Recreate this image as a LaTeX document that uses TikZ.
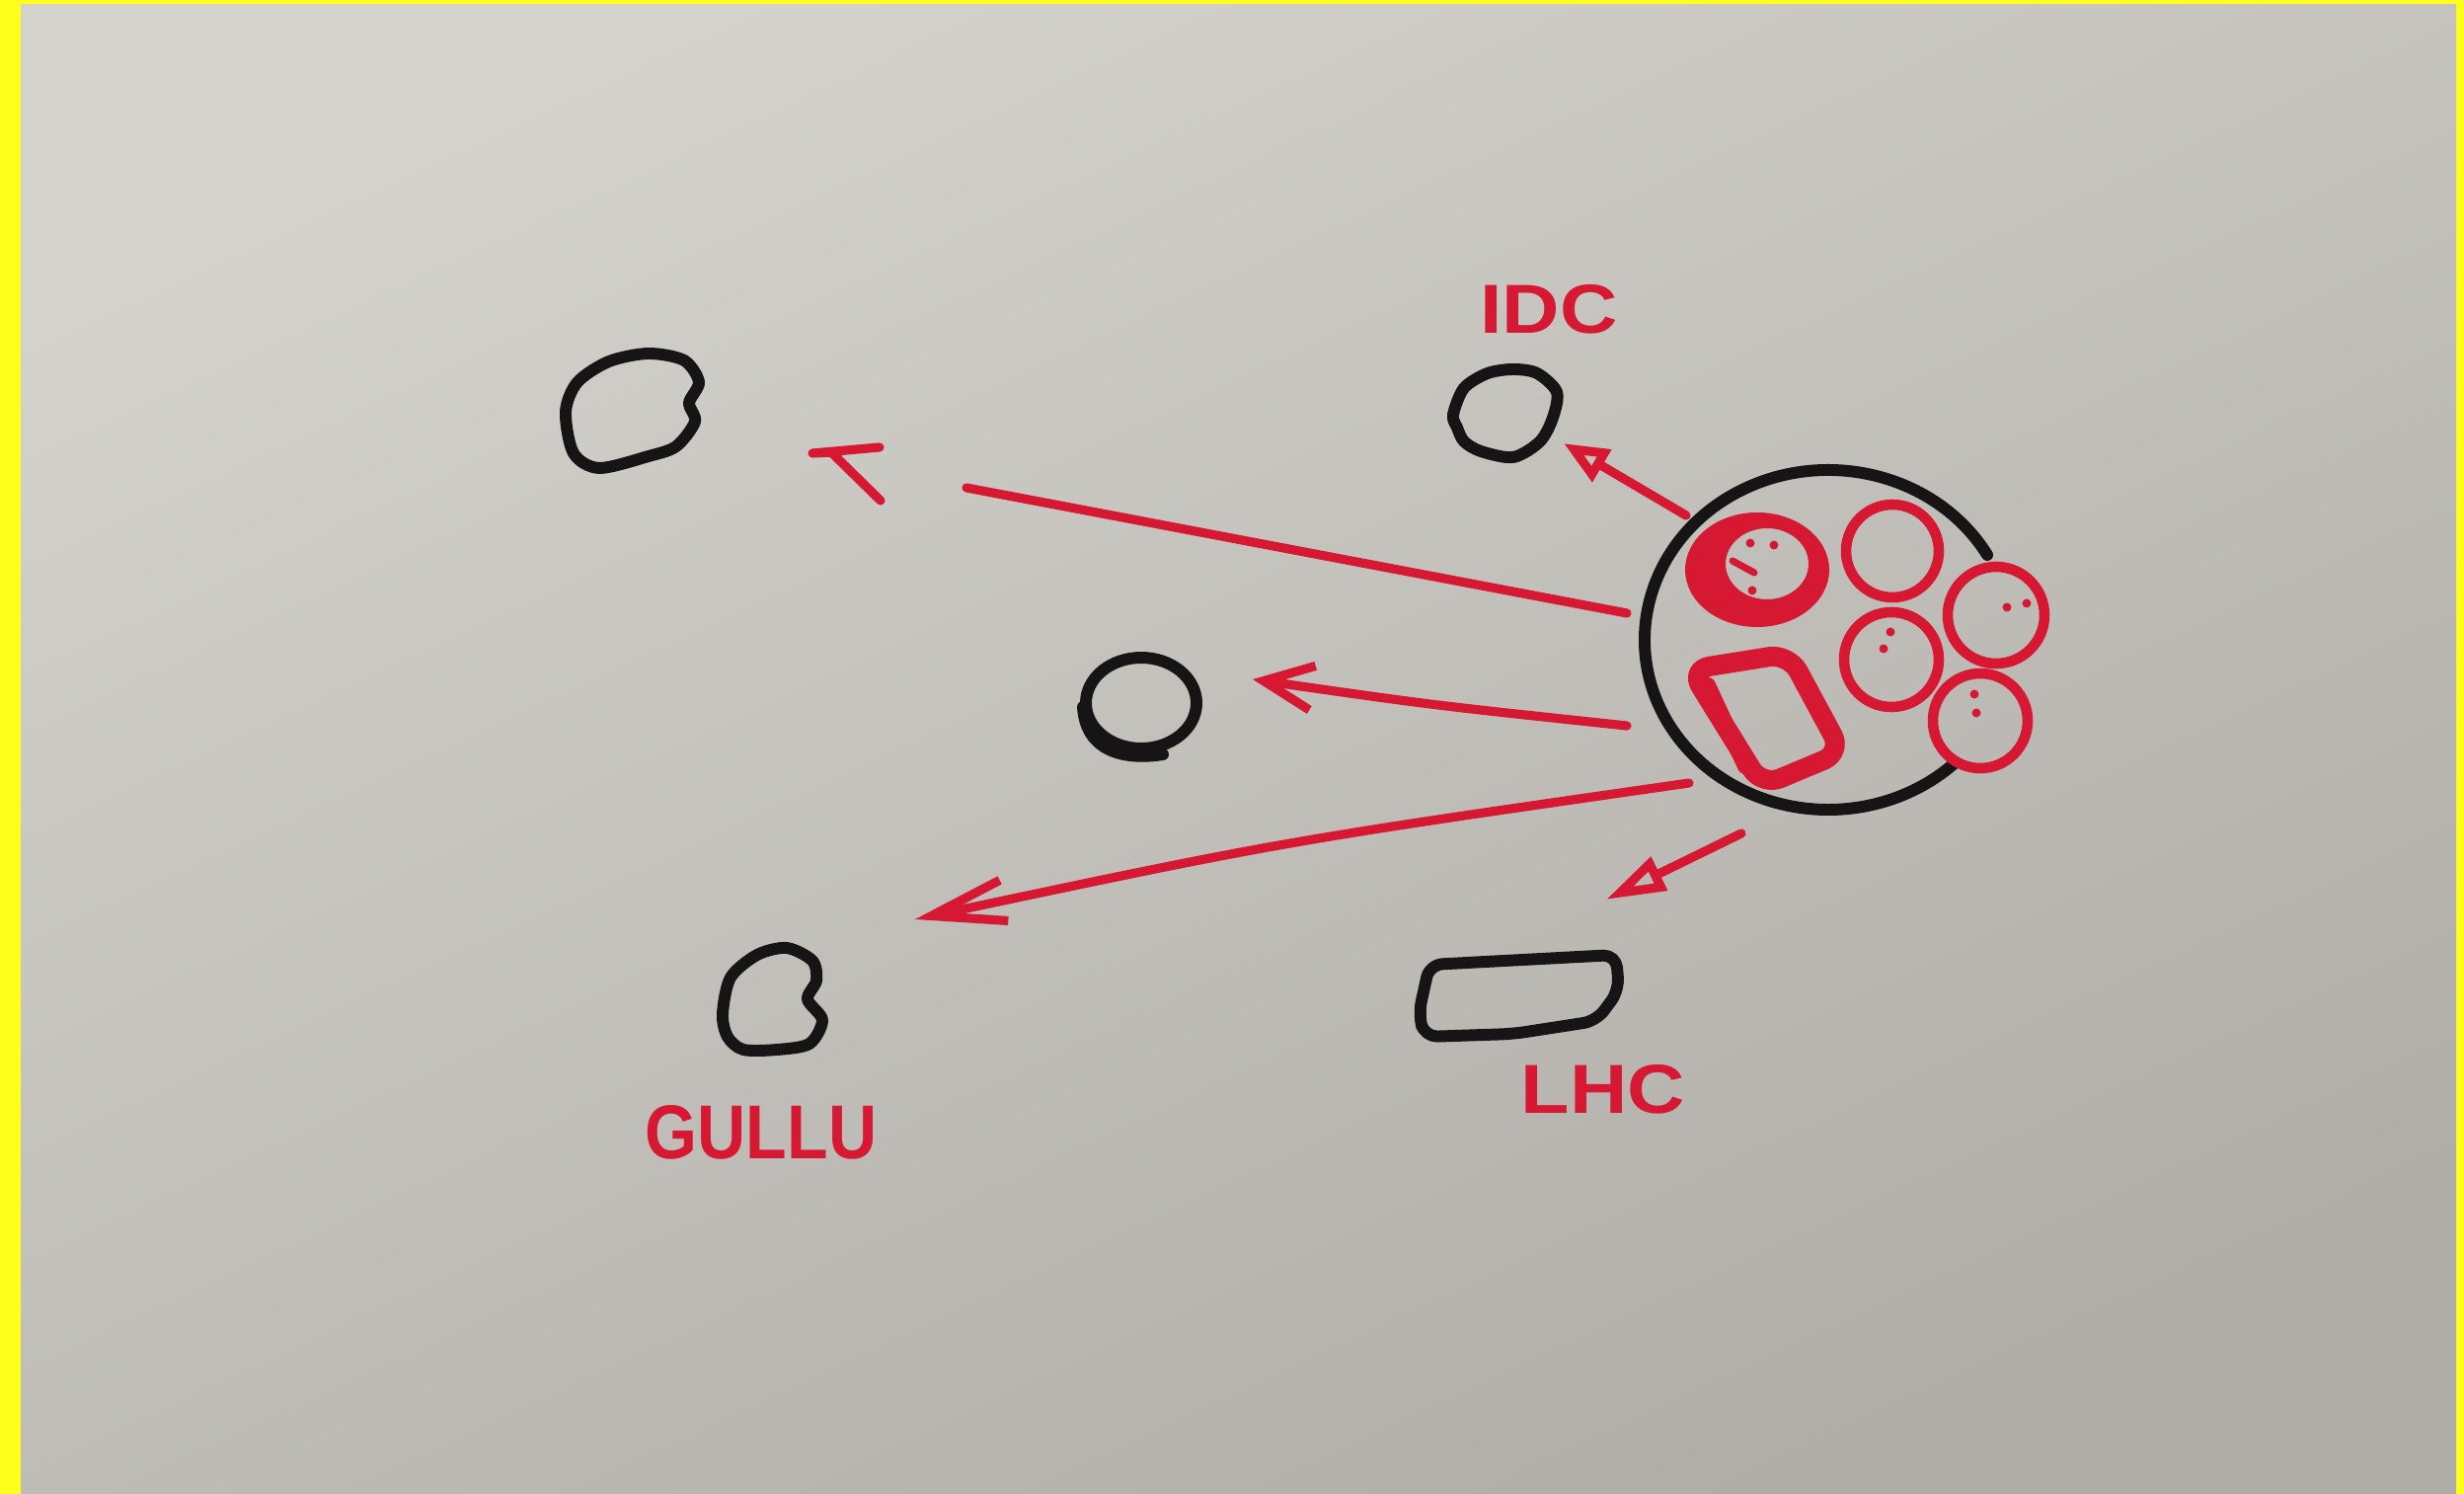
\documentclass[tikz,border=0pt]{standalone}
\usepackage{fontspec}
\newfontfamily\handfont{Liberation Sans}
\usepackage{xcolor}
\definecolor{inkred}{RGB}{214,24,50}
\definecolor{inkblack}{RGB}{22,20,20}
\definecolor{paperlt}{RGB}{212,210,205}
\definecolor{papermd}{RGB}{204,202,197}
\definecolor{paperdk}{RGB}{176,173,168}
\definecolor{tapeyel}{RGB}{255,255,28}
\usepackage{tikz}
\usetikzlibrary{arrows.meta}
\newcommand{\pea}[3]{\draw[redpen] (#1,#2) circle[radius=#3];}
\newcommand{\speck}[2]{\fill[inkred] (#1,#2) circle[radius=4.5];}

\begin{document}
\begin{tikzpicture}[x=0.01cm,y=-0.01cm,
  blackpen/.style={draw=inkblack,line width=3.4pt,line cap=round,line join=round},
  redpen/.style={draw=inkred,line width=3pt,line cap=round,line join=round},
  redline/.style={draw=inkred,line width=2.6pt,line cap=round,line join=round},
  tag/.style={text=inkred,font=\handfont\bfseries\fontsize{20}{20}\selectfont,inner sep=0pt}]
\useasboundingbox (0,0) rectangle (2496,1513);
% ---- paper on yellow
\fill[tapeyel] (0,0) rectangle (2496,1513);
\shade[top color=paperlt,middle color=papermd,bottom color=paperdk,shading angle=25] (21,5) rectangle (2488,1513);
% ---- black blobs
\draw[blackpen] plot[smooth cycle] coordinates {(573,417) (585,387) (617,366) (657,358) (693,365) (708,387) (698,408) (704,427) (685,452) (657,462) (607,474) (581,459)};
\draw[blackpen] plot[smooth cycle] coordinates {(1472,420) (1483,393) (1507,378) (1533,374) (1557,378) (1577,397) (1573,423) (1560,447) (1533,463) (1500,457) (1483,447) (1476,433)};
\draw[blackpen] (1156,712) ellipse[x radius=56,y radius=46];
\draw[blackpen] (1097,716) .. controls (1100,762) and (1140,770) .. (1178,764);
\draw[blackpen] plot[smooth cycle] coordinates {(732,1027) (740,990) (767,967) (797,960) (823,973) (827,993) (818,1012) (833,1033) (820,1057) (787,1063) (753,1063) (737,1050)};
\draw[blackpen,rounded corners=1.3mm] (1448,977) -- (1637,967) -- (1640,1003) -- (1617,1034) -- (1533,1047) -- (1443,1050) -- (1437,1027) -- cycle;
% ---- big circle with red parts
\draw[blackpen] (1852,648) ++(-30:186 and 172) arc[start angle=-30,end angle=-313,x radius=186,y radius=172];
\fill[inkred,even odd rule] (1780,577) ellipse[x radius=73,y radius=58] (1790,571) ellipse[x radius=42,y radius=36];
\speck{1773}{550} \speck{1797}{552} \speck{1775}{598}
\draw[redpen,line width=2pt] (1755,568) -- (1777,580);
\pea{1917}{558}{47}
\pea{2022}{623}{49}
\pea{1916}{668}{48}
\pea{2006}{730}{48}
\speck{2033}{615} \speck{2053}{611} \speck{1915}{640} \speck{1908}{657} \speck{2000}{703} \speck{2002}{722}
\draw[inkred,line width=0.2cm,line join=round,rounded corners=2mm] (1712,678) -- (1812,662) -- (1866,762) -- (1785,796) -- cycle;
\draw[inkred,line width=0.16cm,line cap=round] (1730,694) -- (1768,776);
% ---- arrows
\coordinate (hubA) at (1648,621);
\coordinate (hubB) at (1648,735);
\coordinate (hubC) at (1711,793);
\coordinate (hubD) at (1708,522);
\coordinate (hubE) at (1764,844);
\coordinate (gapEnd) at (979,494);
\coordinate (tipLost) at (823,459);
\coordinate (tipMid) at (1269,688);
\coordinate (tipGullu) at (927,931);
\coordinate (tipIdc) at (1584,449);
\coordinate (tipLhc) at (1627,911);
\draw[redline] (hubA) -- (gapEnd);
\draw[redline] (891,453) -- (tipLost) -- (845,458);
\draw[redline] (842,458) -- (892,507);
\draw[redline,-{Straight Barb[length=5mm,width=4.5mm]}] (hubB) .. controls (1450,714) .. (tipMid);
\draw[redline,-{Straight Barb[length=7.5mm,width=4.2mm]}] (hubC) .. controls (1300,852) .. (tipGullu);
\draw[redline,-{Triangle[open,length=4.5mm,width=3.6mm]}] (hubD) -- (tipIdc);
\draw[redline,-{Triangle[open,length=6mm,width=3.6mm]}] (hubE) -- (tipLhc);
% ---- names
\node[tag,xscale=1.15] (idc) at (1569,313) {IDC};
\node[tag,font=\handfont\bfseries\fontsize{22}{22}\selectfont,xscale=0.88] (gullu) at (771,1147) {GULLU};
\node[tag,xscale=1.15] (lhc) at (1624,1103) {LHC};
\end{tikzpicture}
\end{document}
